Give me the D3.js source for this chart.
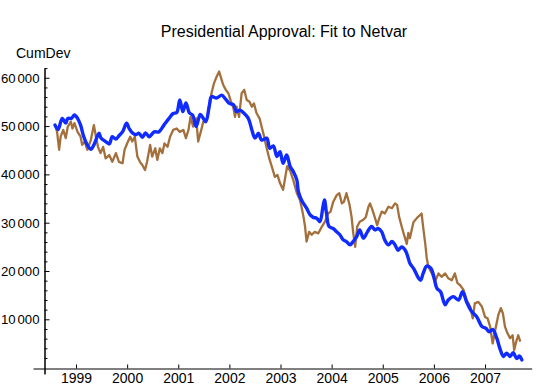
<!DOCTYPE html>
<html><head><meta charset="utf-8">
<script src="https://cdn.jsdelivr.net/npm/d3@7"></script>
<style>body{margin:0;background:#fff}svg{display:block}</style>
</head><body>
<svg id="c" width="540" height="388"></svg>
<script>
const title = "Presidential Approval: Fit to Netvar";
const yLabel = "CumDev";
const yearTicks = [1999,2000,2001,2002,2003,2004,2005,2006,2007];
const yMajorTicks = [10000,20000,30000,40000,50000,60000];

const fitDates = [1998.59,1998.65,1998.73,1998.80,1998.84,1998.91,1998.97,1999.03,1999.09,1999.14,1999.22,1999.29,1999.35,1999.45,1999.49,1999.58,1999.65,1999.71,1999.78,1999.84,1999.91,1999.99,2000.04,2000.10,2000.17,2000.23,2000.30,2000.36,2000.43,2000.53,2000.62,2000.72,2000.82,2000.90,2000.97,2001.03,2001.09,2001.15,2001.22,2001.28,2001.35,2001.43,2001.49,2001.54,2001.61,2001.65,2001.75,2001.85,2001.91,2002.00,2002.08,2002.14,2002.21,2002.27,2002.37,2002.44,2002.50,2002.57,2002.63,2002.73,2002.79,2002.86,2002.93,2002.99,2003.05,2003.12,2003.19,2003.25,2003.32,2003.35,2003.41,2003.51,2003.58,2003.64,2003.71,2003.77,2003.83,2003.86,2003.90,2003.95,2004.03,2004.10,2004.16,2004.23,2004.29,2004.36,2004.42,2004.49,2004.55,2004.62,2004.70,2004.78,2004.85,2004.91,2004.98,2005.04,2005.11,2005.18,2005.24,2005.30,2005.37,2005.44,2005.50,2005.53,2005.61,2005.70,2005.74,2005.79,2005.86,2005.94,2005.99,2006.06,2006.13,2006.22,2006.28,2006.38,2006.48,2006.56,2006.64,2006.74,2006.84,2006.94,2007.02,2007.08,2007.15,2007.23,2007.29,2007.36,2007.42,2007.49,2007.55,2007.62,2007.67,2007.72];
const fitValues = [50200,49300,51600,50600,51600,51600,52300,51600,50200,48200,46100,45200,46100,48500,47500,46800,46300,47800,47300,48000,48800,50600,49500,48600,48200,48500,47700,48600,47800,48800,48800,50200,51600,52600,52800,55400,53000,54800,52700,52300,49900,52400,51600,50900,54400,56100,55800,56400,55800,54700,54400,53000,53300,52800,51600,49200,47500,48500,47100,47500,45400,45900,43700,44700,42300,44000,41600,40600,38800,36400,34700,33000,31600,31100,30900,30200,33300,34700,31900,29200,28800,28100,27500,26400,26100,25400,26100,27100,28500,26800,28100,29200,28500,28800,28100,26400,25400,26100,25400,24300,25000,24300,22600,21600,20400,18500,18100,19500,21000,20600,19200,16400,15700,13000,14000,14700,14000,15700,13600,11600,10500,8500,8100,7400,7900,6100,4000,2300,3000,2300,3100,1900,2400,1600];

const actualDates = [1998.60,1998.63,1998.67,1998.70,1998.75,1998.80,1998.84,1998.90,1998.93,1998.97,1999.03,1999.09,1999.12,1999.17,1999.22,1999.29,1999.35,1999.39,1999.43,1999.48,1999.53,1999.58,1999.65,1999.71,1999.78,1999.84,1999.91,1999.95,2000.00,2000.06,2000.10,2000.15,2000.20,2000.25,2000.30,2000.35,2000.39,2000.45,2000.49,2000.55,2000.59,2000.64,2000.69,2000.73,2000.79,2000.84,2000.90,2000.97,2001.03,2001.10,2001.15,2001.20,2001.24,2001.29,2001.35,2001.39,2001.44,2001.49,2001.56,2001.61,2001.65,2001.70,2001.75,2001.80,2001.85,2001.88,2001.93,2001.98,2002.03,2002.08,2002.11,2002.14,2002.19,2002.24,2002.29,2002.34,2002.39,2002.44,2002.48,2002.53,2002.59,2002.63,2002.68,2002.73,2002.78,2002.83,2002.89,2002.94,2002.99,2003.05,2003.13,2003.19,2003.25,2003.32,2003.38,2003.41,2003.45,2003.48,2003.51,2003.56,2003.61,2003.67,2003.74,2003.81,2003.87,2003.93,2003.98,2004.03,2004.10,2004.15,2004.20,2004.24,2004.29,2004.35,2004.39,2004.42,2004.46,2004.50,2004.55,2004.62,2004.67,2004.72,2004.75,2004.80,2004.85,2004.89,2004.93,2004.98,2005.04,2005.11,2005.18,2005.24,2005.28,2005.32,2005.37,2005.41,2005.47,2005.50,2005.53,2005.60,2005.67,2005.73,2005.76,2005.79,2005.83,2005.86,2005.89,2005.96,2006.02,2006.09,2006.15,2006.22,2006.28,2006.35,2006.41,2006.46,2006.51,2006.58,2006.64,2006.71,2006.76,2006.80,2006.87,2006.94,2007.00,2007.05,2007.10,2007.15,2007.20,2007.26,2007.31,2007.35,2007.39,2007.44,2007.49,2007.54,2007.57,2007.61,2007.65,2007.69];
const actualValues = [49900,48800,45100,47800,49200,47500,49900,50900,49500,50600,48800,47800,46100,46800,45100,47100,50200,47800,45700,44400,45700,43300,44000,42600,44400,42600,42300,45100,46400,47800,46800,47800,43700,42600,41900,40900,42600,46100,43700,45400,43000,45400,44400,46400,45700,47800,49200,49500,48800,49200,47500,49200,51900,49900,51600,46800,48800,50900,51300,54000,56800,58900,60200,61300,59500,58500,57500,56800,55100,53700,51900,54000,51900,56800,57500,55400,55100,54000,54700,52700,51600,49900,47800,45400,43300,41600,39500,39900,38200,36800,41700,40700,38800,36100,34700,33300,31200,29200,26100,28100,27500,28100,27800,29200,30200,31900,32300,34300,35700,36100,34000,34300,36100,33700,31200,28100,25000,29200,30200,30600,31200,33300,34000,32600,30900,29500,30900,32300,31900,33300,33000,34000,33700,31200,29200,27700,25600,27900,26800,30100,31000,31600,31900,29100,25700,22700,20900,19500,17800,19500,18800,19500,18500,18100,19500,17500,17100,16100,14000,12600,10200,13300,13600,12600,10500,10200,8500,5000,7800,10900,12300,11200,8500,7100,6100,6700,3600,5400,6700,5400];

const svg = d3.select("#c");
const font = "'Liberation Sans', Arial, sans-serif";

const x = d3.scaleLinear().domain([1998.159, 2007.913]).range([33, 531.7]);
const y = d3.scaleLinear().domain([-1300, 62000]).range([373.9, 68.1]);

// title
svg.append("text").attr("x", 284).attr("y", 37).attr("text-anchor", "middle")
  .attr("font-family", font).attr("font-size", 16).text(title);
svg.append("text").attr("x", 16).attr("y", 58.3)
  .attr("font-family", font).attr("font-size", 14).text(yLabel);

// x axis
const xAxis = d3.axisBottom(x).tickValues(yearTicks).tickFormat(d3.format("d"))
  .tickSizeInner(-4).tickSizeOuter(0).tickPadding(5);
const gx = svg.append("g").attr("transform", "translate(0,368.5)").call(xAxis);
gx.selectAll("text").attr("font-family", font).attr("font-size", 14).attr("fill", "#000");
gx.selectAll("line,path").attr("stroke", "#000");

// y axis minor
const minor = d3.range(2000, 62001, 2000).filter(v => v % 10000 !== 0);
const gyMinor = svg.append("g").attr("transform", "translate(44.5,0)")
  .call(d3.axisLeft(y).tickValues(minor).tickSizeInner(-3).tickSizeOuter(0).tickFormat(""));
gyMinor.selectAll("line,path").attr("stroke", "#000");
const gy = svg.append("g").attr("transform", "translate(44.5,0)")
  .call(d3.axisLeft(y).tickValues(yMajorTicks).tickSizeInner(-5).tickSizeOuter(0).tickPadding(5).tickFormat(""));
gy.selectAll("line,path").attr("stroke", "#000");
// y tick labels with a small digit-group gap
gy.selectAll(".tick").each(function(d) {
  const t = d3.select(this).append("text")
    .attr("x", -5).attr("dy", "0.34em").attr("text-anchor", "end")
    .attr("font-family", font).attr("font-size", 13.2).attr("fill", "#000");
  t.append("tspan").text(String(Math.floor(d / 1000)));
  t.append("tspan").attr("dx", 1.8).text("000");
});

// lines
const actual = actualDates.map((d, i) => [d, actualValues[i]]);
const fit = fitDates.map((d, i) => [d, fitValues[i]]);
svg.append("path").datum(actual)
  .attr("d", d3.line().x(d => x(d[0])).y(d => y(d[1])))
  .attr("fill", "none").attr("stroke", "#a3703c").attr("stroke-width", 2.3)
  .attr("stroke-linejoin", "round");
svg.append("path").datum(fit)
  .attr("d", d3.line().x(d => x(d[0])).y(d => y(d[1])).curve(d3.curveCatmullRom.alpha(0.5)))
  .attr("fill", "none").attr("stroke", "#0f2bff").attr("stroke-width", 3.4)
  .attr("stroke-linejoin", "round").attr("stroke-linecap", "round");
</script>
</body></html>
